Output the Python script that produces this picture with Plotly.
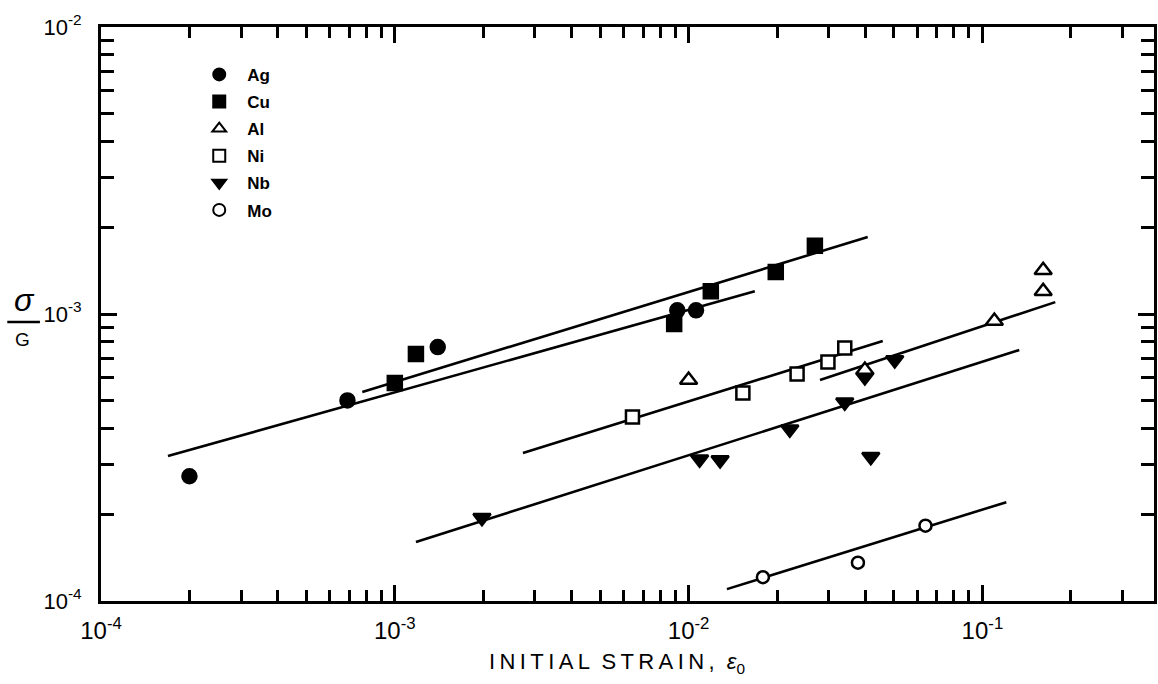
import plotly.graph_objects as go

# Measured points: normalised flow stress sigma/G versus initial strain eps0
ag_x = [2.0e-4, 6.9e-4, 1.40e-3, 9.15e-3, 1.06e-2]
ag_y = [2.72e-4, 5.0e-4, 7.67e-4, 1.03e-3, 1.03e-3]

cu_x = [1.0e-3, 1.18e-3, 8.93e-3, 1.19e-2, 1.98e-2, 2.69e-2]
cu_y = [5.75e-4, 7.25e-4, 9.23e-4, 1.20e-3, 1.40e-3, 1.73e-3]

al_x = [1.0e-2, 3.98e-2, 0.1098, 0.161, 0.161]
al_y = [5.89e-4, 6.38e-4, 9.45e-4, 1.20e-3, 1.42e-3]

ni_x = [6.44e-3, 1.53e-2, 2.34e-2, 2.98e-2, 3.40e-2]
ni_y = [4.38e-4, 5.31e-4, 6.18e-4, 6.81e-4, 7.61e-4]

nb_x = [1.98e-3, 1.09e-2, 1.28e-2, 2.21e-2, 3.40e-2, 3.98e-2, 4.17e-2, 5.03e-2]
nb_y = [1.95e-4, 3.12e-4, 3.10e-4, 3.97e-4, 4.93e-4, 6.03e-4, 3.18e-4, 6.91e-4]

mo_x = [1.79e-2, 3.77e-2, 6.40e-2]
mo_y = [1.21e-4, 1.36e-4, 1.83e-4]

# Straight-line (power-law) fits, given by their end points
ag_fit_x = [1.69e-4, 1.68e-2]
ag_fit_y = [3.20e-4, 1.20e-3]
cu_fit_x = [7.75e-4, 4.07e-2]
cu_fit_y = [5.35e-4, 1.855e-3]
ni_fit_x = [2.73e-3, 4.58e-2]
ni_fit_y = [3.28e-4, 8.05e-4]
al_fit_x = [2.80e-2, 0.177]
al_fit_y = [5.89e-4, 1.10e-3]
nb_fit_x = [1.18e-3, 0.1335]
nb_fit_y = [1.605e-4, 7.49e-4]
mo_fit_x = [1.35e-2, 0.1206]
mo_fit_y = [1.10e-4, 2.21e-4]

decades_x = [1e-4, 1e-3, 1e-2, 1e-1]
decade_labels_x = ["10<sup>-4</sup>", "10<sup>-3</sup>", "10<sup>-2</sup>", "10<sup>-1</sup>"]
decades_y = [1e-4, 1e-3, 1e-2]
decade_labels_y = ["10<sup>-4</sup>", "10<sup>-3</sup>", "10<sup>-2</sup>"]

FONT = "Liberation Sans"
INK = "black"

fig = go.Figure()

for fx, fy in [(ag_fit_x, ag_fit_y), (cu_fit_x, cu_fit_y), (ni_fit_x, ni_fit_y),
               (al_fit_x, al_fit_y), (nb_fit_x, nb_fit_y), (mo_fit_x, mo_fit_y)]:
    fig.add_trace(go.Scatter(x=fx, y=fy, mode="lines", showlegend=False,
                             line=dict(color=INK, width=2.6), hoverinfo="skip"))

series = [
    ("Ag", ag_x, ag_y, "circle", INK, 14, 1),
    ("Cu", cu_x, cu_y, "square", INK, 14, 2),
    ("Nb", nb_x, nb_y, "triangle-down", INK, 15, 5),
    ("Al", al_x, al_y, "triangle-up", "white", 15, 3),
    ("Ni", ni_x, ni_y, "square", "white", 13, 4),
    ("Mo", mo_x, mo_y, "circle", "white", 12, 6),
]
for name, sx, sy, sym, fill, size, rank in series:
    fig.add_trace(go.Scatter(
        x=sx, y=sy, mode="markers", name=name, legendgroup=name, legendrank=rank,
        marker=dict(symbol=sym, size=size, color=fill,
                    line=dict(color=INK, width=2.5)),
    ))

axis_common = dict(
    type="log", showgrid=False, zeroline=False,
    showline=True, linecolor=INK, linewidth=3, mirror="ticks",
    ticks="inside", tickcolor=INK, tickwidth=2.5, ticklen=16,
    tickmode="array",
)

minor_x = [m * d for d in [1e-4, 1e-3, 1e-2, 1e-1] for m in range(2, 10) if m * d < 0.39]
minor_y = [m * d for d in [1e-4, 1e-3] for m in range(2, 10)]

fig.update_xaxes(**axis_common, range=[-4, -0.416],
                 tickvals=decades_x, ticktext=decade_labels_x, ticklabelstandoff=6,
                 tickfont=dict(family=FONT, size=24, color=INK),
                 minor=dict(tickmode="array", tickvals=minor_x, ticks="inside",
                            ticklen=11, tickwidth=2.5, tickcolor=INK, showgrid=False))
fig.update_yaxes(**axis_common, range=[-4, -2],
                 tickvals=decades_y, ticktext=decade_labels_y, ticklabelstandoff=12,
                 tickfont=dict(family=FONT, size=22, color=INK),
                 minor=dict(tickmode="array", tickvals=minor_y, ticks="inside",
                            ticklen=13, tickwidth=2.5, tickcolor=INK, showgrid=False))

sp = "\u2009"
x_title = (sp.join("INITIAL") + "  " + sp.join("STRAIN,") + "  "
           + "<i>ε</i><sub>0</sub>")

fig.add_annotation(text=x_title, xref="paper", yref="paper", x=0.4896, y=-0.108,
                   xanchor="center", yanchor="middle", showarrow=False,
                   font=dict(family=FONT, size=22, color=INK))

# sigma / G fraction for the vertical axis
fig.add_annotation(text="<i>σ</i>", xref="paper", yref="paper", x=-0.0729, y=0.490,
                   xanchor="center", yanchor="bottom", showarrow=False,
                   font=dict(family=FONT, size=32, color=INK))
fig.add_annotation(text="G", xref="paper", yref="paper", x=-0.0748, y=0.478,
                   xanchor="center", yanchor="top", showarrow=False,
                   font=dict(family=FONT, size=19, color=INK))
fig.add_shape(type="line", xref="paper", yref="paper", x0=-0.089, x1=-0.058,
              y0=0.486, y1=0.486, line=dict(color=INK, width=2.5))

fig.update_layout(
    width=1158, height=684,
    margin=dict(l=101, r=1, t=27, b=83),
    plot_bgcolor="white", paper_bgcolor="white",
    font=dict(family=FONT, color=INK),
    legend=dict(x=0.0857, y=0.948, xanchor="left", yanchor="top",
                bgcolor="rgba(0,0,0,0)", tracegroupgap=2, itemwidth=46,
                font=dict(family=FONT, size=17, color=INK, weight="bold"),
                itemsizing="constant"),
)

fig.write_html("out.html")
